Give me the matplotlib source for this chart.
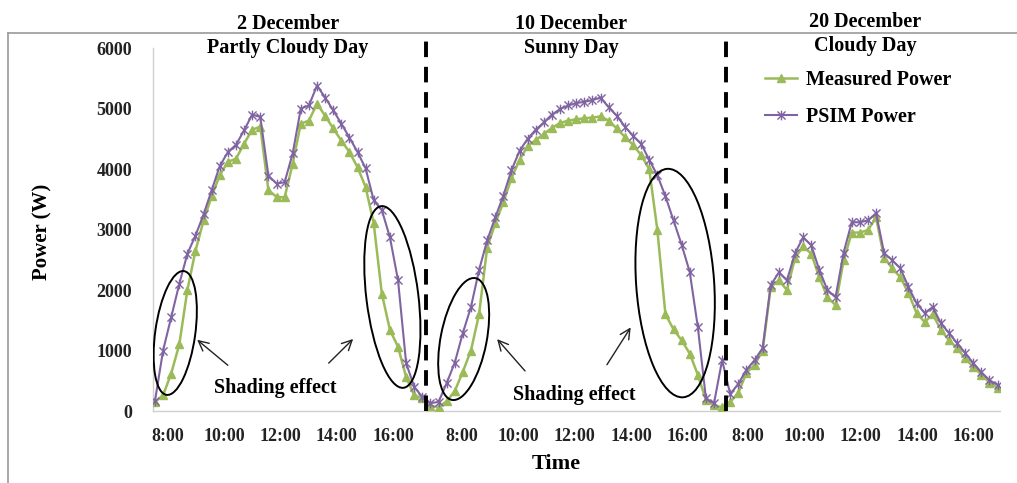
import matplotlib
matplotlib.use("Agg")
import matplotlib.pyplot as plt
import numpy as np
from matplotlib.patches import Ellipse
from matplotlib.lines import Line2D
from matplotlib.path import Path
from matplotlib.transforms import ScaledTranslation

plt.rcParams['font.family'] = ['Liberation Serif', 'DejaVu Serif']
plt.rcParams['font.weight'] = 'bold'

# Power (W), one value per sample, three days run together on one axis
day1_measured = [150, 260, 620, 1100, 2000, 2650, 3150, 3550, 3900, 4120, 4170, 4420,
                 4650, 4700, 3650, 3540, 3530, 4090, 4750, 4800, 5080, 4880, 4670, 4470,
                 4280, 4030, 3700, 3100, 1940, 1340, 1060, 560, 260, 210]
day1_psim = [170, 1000, 1550, 2100, 2600, 2900, 3250, 3650, 4050, 4280, 4400, 4640,
             4900, 4860, 3890, 3760, 3780, 4260, 5000, 5050, 5380, 5180, 4970, 4750,
             4520, 4280, 4010, 3480, 3320, 2870, 2160, 790, 400, 230]

day2_measured = [80, 70, 160, 330, 650, 1000, 1600, 2700, 3100, 3450, 3850, 4150,
                 4380, 4480, 4580, 4680, 4760, 4800, 4820, 4840, 4850, 4870, 4800, 4670,
                 4530, 4400, 4230, 4000, 3000, 1600, 1350, 1170, 950, 600, 180, 100, 60]
day2_psim = [130, 150, 460, 800, 1290, 1720, 2330, 2820, 3200, 3560, 3980, 4300,
             4500, 4650, 4770, 4900, 4990, 5050, 5090, 5110, 5140, 5180, 5020, 4880,
             4700, 4550, 4420, 4150, 3900, 3550, 3150, 2750, 2300, 1390, 210, 130, 840]

day3_measured = [150, 300, 630, 760, 1000, 2050, 2160, 2000, 2530, 2720, 2600, 2210,
                 1880, 1750, 2490, 2950, 2950, 2990, 3200, 2530, 2360, 2210, 1950, 1620,
                 1470, 1600, 1340, 1170, 1040, 870, 730, 600, 470, 380]
day3_psim = [280, 450, 680, 840, 1040, 2080, 2290, 2160, 2610, 2870, 2740, 2330,
             2000, 1880, 2620, 3120, 3120, 3150, 3270, 2610, 2490, 2360, 2050, 1780,
             1620, 1720, 1450, 1290, 1120, 960, 790, 640, 510, 430]

day_titles = ["2 December\nPartly Cloudy Day", "10 December\nSunny Day",
              "20 December\nCloudy Day"]
time_labels = ["8:00", "10:00", "12:00", "14:00", "16:00"]
first_tick = [1.6, 37.9, 73.2]   # sample position of 8:00 on each day
two_hours = 6.95                 # samples per 2 hours

measured = np.array(day1_measured + day2_measured + day3_measured)
psim = np.array(day1_psim + day2_psim + day3_psim)
x = np.arange(len(measured))

green = '#9BBB59'
purple = '#8064A2'

fig = plt.figure(figsize=(10.17, 4.83), dpi=100)
ax = fig.add_axes([0.1504, 0.149, 0.8329, 0.7516])

star = Path([(-1, -1), (1, 1), (-1, 1), (1, -1), (0, -1.2), (0, 1.2)],
            [Path.MOVETO, Path.LINETO, Path.MOVETO, Path.LINETO, Path.MOVETO, Path.LINETO])

ax.plot(x, measured, color=green, lw=1.8, marker='^', ms=6, mec=green, mfc=green,
        label='Measured Power', zorder=3)
ax.plot(x, psim, color=purple, lw=1.5, marker=star, ms=7, mew=1.0, mec=purple,
        label='PSIM Power', zorder=4)

ax.set_xlim(-0.25, 104.3)
ax.set_ylim(0, 6000)
ax.set_yticks(range(0, 6001, 1000))
ticks, labels = [], []
for f in first_tick:
    for k, lab in enumerate(time_labels):
        ticks.append(f + k * two_hours)
        labels.append(lab)
ax.set_xticks(ticks)
ax.set_xticklabels(labels)
ax.tick_params(axis='both', length=0, labelsize=13, colors='#222222')
ax.tick_params(axis='y', pad=15)
ax.tick_params(axis='x', pad=12)
for s in ['top', 'right']:
    ax.spines[s].set_visible(False)
for s in ['left', 'bottom']:
    ax.spines[s].set_color('#D0D0D0')
    ax.spines[s].set_linewidth(1.0)

# day separators
n1 = len(day1_measured)
n2 = len(day2_measured)
for b in [n1 - 0.5, n1 + n2 - 0.5]:
    ax.axvline(b, ymin=0, ymax=1.022, color='black', lw=2.8, ls=(0, (4, 2.5)),
               clip_on=False, zorder=5)

# day titles
day_centres = [16.4, 51.4, 87.7]
day_title_y = [6200, 6200, 6230]
for cx, cy, t in zip(day_centres, day_title_y, day_titles):
    ax.text(cx, cy, t, ha='center', va='center', fontsize=14.5, linespacing=1.22,
            clip_on=False)

# shading ellipses: centre (sample, W), size in pixels, angle
ellipses = [(2.5, 1290, 40, 125, -8), (29.3, 1885, 52, 183, 7),
            (38.1, 1190, 46, 124, -11), (64.2, 2115, 78, 229, 4)]
for cx, cy, w, h, a in ellipses:
    tr = fig.dpi_scale_trans + ScaledTranslation(cx, cy, ax.transData)
    ax.add_patch(Ellipse((0, 0), w / 100, h / 100, angle=a, fill=False,
                         ec='black', lw=1.4, transform=tr, zorder=6))

arrows = [((9.26, 727), (4.94, 1207)), ((21.2, 760), (24.7, 1223)),
          ((45.9, 628), (42.0, 1223)), ((55.6, 727), (58.9, 1421))]
for tail, head in arrows:
    ax.annotate('', xy=head, xytext=tail,
                arrowprops=dict(arrowstyle='->', color='#222222', lw=1.0,
                                mutation_scale=18), zorder=6)

ax.text(14.8, 380, 'Shading effect', ha='center', va='center', fontsize=14.5)
ax.text(51.7, 264, 'Shading effect', ha='center', va='center', fontsize=14.5)

ax.legend(loc='upper left', bbox_to_anchor=(0.752, 0.856), bbox_transform=fig.transFigure,
          frameon=False, fontsize=14.5, handlelength=1.6, handletextpad=0.45,
          labelspacing=0.85, borderpad=0, borderaxespad=0)

fig.text(42 / 1017, 1 - 232 / 483, 'Power (W)', rotation=90, ha='center', va='center',
         fontsize=15)
fig.text(556 / 1017, 1 - 464 / 483, 'Time', ha='center', va='center', fontsize=16)

# outer frame of the original chart area
fig.add_artist(Line2D([8 / 1017, 1], [1 - 33 / 483, 1 - 33 / 483], transform=fig.transFigure,
                      color='#9A9A9A', lw=1.2))
fig.add_artist(Line2D([8 / 1017, 8 / 1017], [0, 1 - 33 / 483], transform=fig.transFigure,
                      color='#9A9A9A', lw=1.2))

fig.savefig('out.png', dpi=100)
